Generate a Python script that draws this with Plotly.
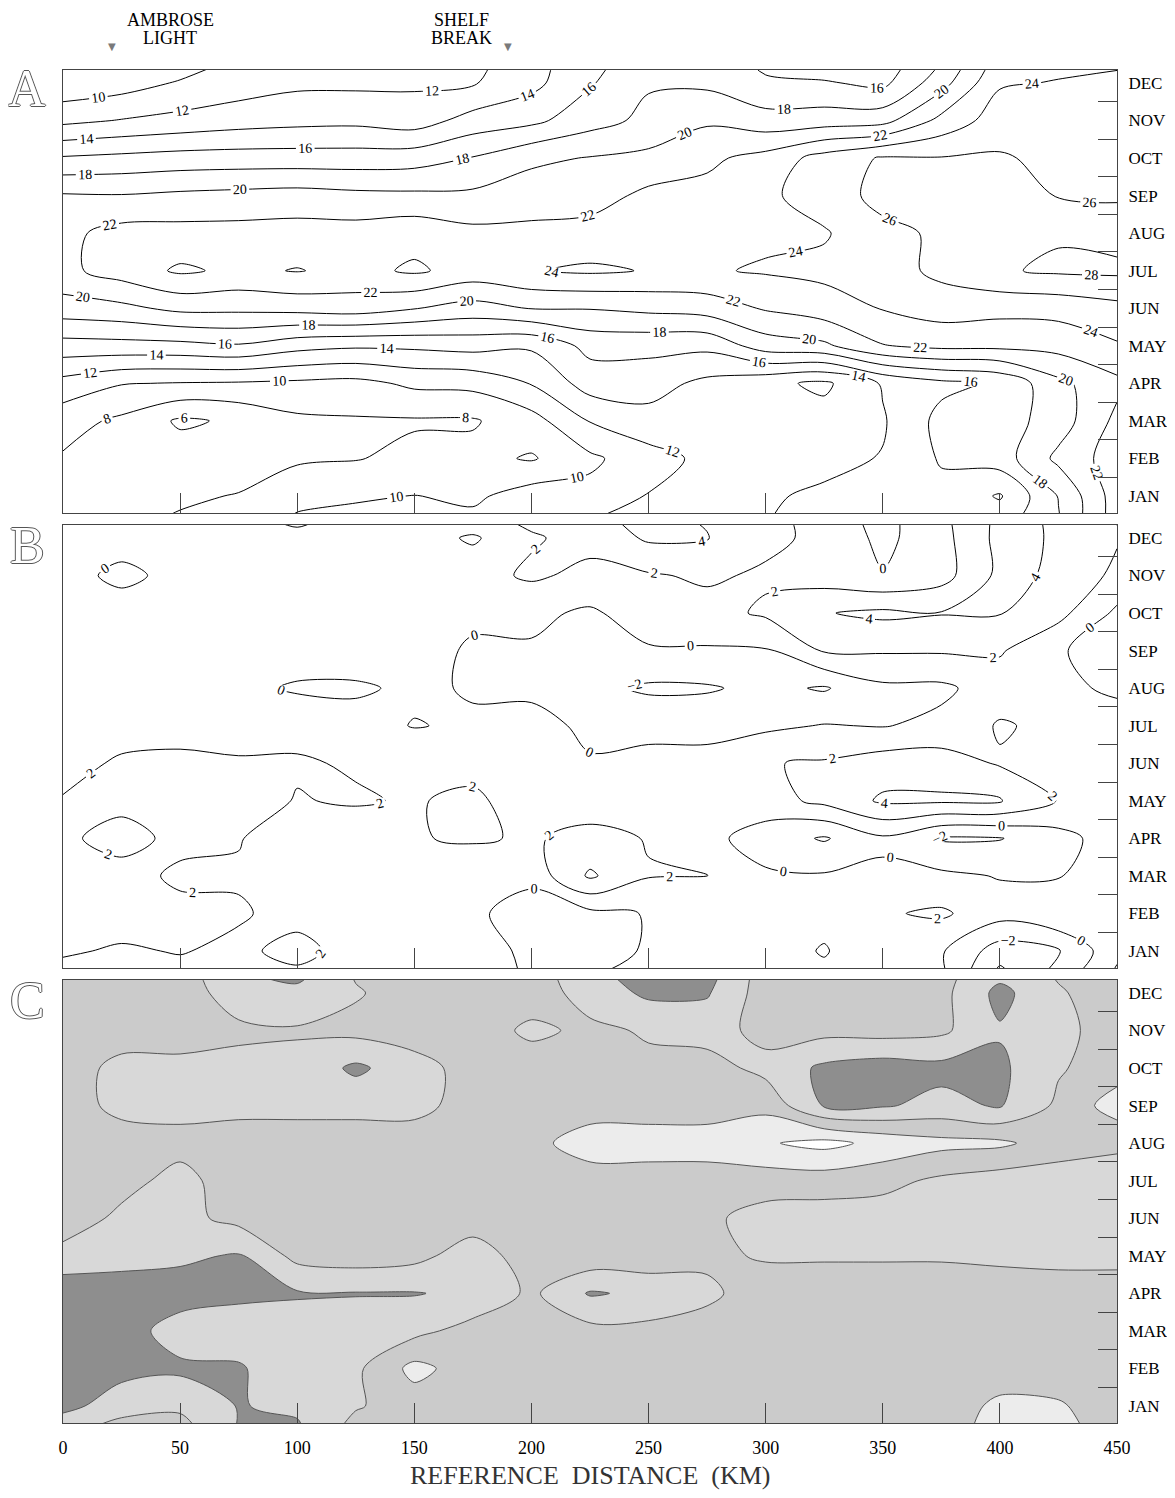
import plotly.graph_objects as go

# ---------------- data ----------------
distance_km = [0, 25, 50, 75, 100, 125, 150, 175, 200, 225, 250, 275, 300, 325, 350, 375, 400, 425, 450]
month_pos = [0.5, 1, 2, 3, 4, 5, 6, 7, 8, 9, 10, 11, 12, 12.5]
month_names = ["JAN", "FEB", "MAR", "APR", "MAY", "JUN", "JUL", "AUG", "SEP", "OCT", "NOV", "DEC"]
month_ticks = [1, 2, 3, 4, 5, 6, 7, 8, 9, 10, 11, 12]
month_bounds = [1.5, 2.5, 3.5, 4.5, 5.5, 6.5, 7.5, 8.5, 9.5, 10.5, 11.5]
distance_ticks = [0, 50, 100, 150, 200, 250, 300, 350, 400, 450]

landmark_km = [21, 190]
landmark_lines = [["AMBROSE", "LIGHT"], ["SHELF", "BREAK"]]
panel_letters = ["A", "B", "C"]

# Panel A: temperature (rows follow month_pos, columns follow distance_km)
temp_A = [
    [7.7, 7.5, 8.1, 8.6, 10.1, 10.5, 10.4, 10.3, 11.9, 11.8, 12.6, 13.4, 13.9, 14.6, 14.7, 15.3, 14.8, 17.9, 23.0],
    [7.6, 7.4, 7.7, 8.1, 9.4, 9.7, 10.05, 9.6, 11.0, 10.6, 12.1, 13.2, 13.8, 14.3, 14.5, 15.4, 13.8, 18.1, 23.0],
    [7.8, 7.2, 7.0, 7.0, 7.7, 7.9, 8.5, 8.6, 7.8, 9.6, 11.2, 12.5, 13.6, 13.5, 14.1, 16.2, 17.0, 20.5, 23.0],
    [8.8, 7.6, 5.7, 6.3, 7.6, 7.8, 7.8, 7.8, 9.2, 12.1, 13.3, 13.6, 13.0, 12.8, 13.8, 16.6, 17.0, 19.0, 22.5],
    [11.3, 10.1, 9.9, 9.8, 9.6, 9.4, 10.4, 10.6, 12.1, 14.9, 14.8, 13.5, 12.5, 11.6, 14.2, 15.5, 16.3, 19.5, 21.5],
    [15.2, 15.3, 15.4, 15.8, 14.7, 14.3, 14.4, 14.7, 14.3, 16.6, 16.6, 16.5, 19.0, 19.6, 21.9, 22.5, 22.5, 22.7, 23.8],
    [19.1, 19.5, 20.5, 20.5, 20.7, 21.0, 20.1, 19.2, 20.1, 20.1, 20.5, 20.9, 22.2, 23.1, 24.1, 24.9, 24.6, 24.7, 25.4],
    [21.5, 22.9, 24.3, 23.6, 24.1, 23.4, 24.3, 23.2, 23.9, 24.3, 23.9, 23.8, 24.2, 24.5, 25.1, 26.5, 27.8, 28.3, 28.4],
    [21.5, 22.7, 22.7, 22.7, 22.8, 22.8, 23.3, 22.5, 22.5, 22.8, 23.3, 23.3, 23.6, 23.8, 25.5, 26.3, 27.1, 27.8, 27.3],
    [20.2, 20.1, 20.4, 20.6, 20.8, 20.5, 20.4, 20.4, 21.0, 21.1, 22.5, 22.6, 23.6, 25.0, 26.6, 26.3, 26.8, 25.9, 25.7],
    [16.2, 16.5, 16.8, 16.9, 16.9, 16.9, 17.1, 18.1, 19.6, 20.1, 20.5, 21.6, 22.7, 24.8, 26.2, 26.1, 26.2, 25.5, 25.2],
    [11.5, 12.1, 12.6, 13.1, 13.4, 13.5, 13.0, 14.8, 15.5, 17.2, 18.5, 19.7, 18.8, 19.0, 19.3, 22.6, 25.0, 24.9, 24.6],
    [8.5, 9.1, 10.2, 11.0, 11.6, 11.6, 11.7, 11.8, 13.4, 15.8, 17.8, 17.6, 16.3, 16.2, 15.5, 19.2, 23.8, 24.1, 24.4],
    [7.8, 7.8, 9.0, 10.5, 11.0, 11.3, 11.4, 11.5, 13.2, 15.5, 17.0, 17.3, 15.6, 14.8, 14.8, 18.1, 23.0, 23.6, 23.8],
]

# Panel B: anomaly
anom_B = [
    [1.8, 1.7, 1.8, 1.8, 1.9, 1.5, 1.3, 1.0, -0.3, -0.05, 0.1, 0.5, 0.3, 0.1, 0.5, 0.3, -4.3, -1.5, 2.2],
    [2.1, 1.9, 2.05, 1.8, 2.3, 1.6, 1.4, 1.0, -0.5, -0.2, 0.05, 0.2, 0.3, -0.05, 0.5, 0.2, -3.0, -2.2, 1.5],
    [2.4, 2.4, 2.3, 2.1, 1.7, 1.4, 1.2, 0.6, -1.5, -0.5, 0.1, 0.8, 0.8, 0.2, 1.8, 2.3, 0.8, 1.9, 1.8],
    [2.3, 2.4, 1.8, 1.9, 1.6, 1.4, 1.2, 0.8, 0.8, 4.3, 2.1, 2.1, 0.3, 0.2, 0.3, 0.4, -0.1, -0.1, 0.8],
    [2.2, 1.6, 2.3, 2.05, 1.5, 1.4, 1.9, 2.2, 1.8, 2.6, 1.9, 0.6, -1.0, -2.2, -0.3, -2.2, -2.1, -0.7, 1.0],
    [2.1, 2.3, 2.5, 2.4, 1.95, 2.1, 1.9, 2.3, 1.2, 1.0, 0.3, 0.2, 1.2, 2.5, 4.3, 4.3, 4.2, 1.9, 1.2],
    [1.5, 2.2, 2.3, 2.1, 2.1, 1.9, 1.6, 1.5, 1.0, 0.2, 0.6, 0.7, 1.9, 2.2, 3.0, 3.0, 1.8, 1.5, 1.0],
    [1.3, 1.4, 1.5, 1.6, 1.7, 0.8, -0.1, 0.3, 0.8, -0.5, -0.6, -0.7, -0.4, 0.1, -0.1, 0.5, 2.2, 1.5, 0.8],
    [1.2, 1.2, 1.3, 0.6, -0.3, -0.3, 0.4, -0.2, -0.5, -1.5, -2.3, -2.2, -1.5, -2.2, -0.4, -0.4, 1.0, 0.4, -0.3],
    [1.0, 1.0, 1.1, 1.2, 1.3, 1.2, 0.6, -0.2, -0.2, -0.6, -0.2, -0.2, -0.2, 2.2, 2.2, 2.2, 2.2, 0.3, -1.5],
    [1.0, 0.8, 1.0, 1.2, 1.3, 1.4, 1.3, 0.3, 0.4, -0.3, 1.0, 1.3, 2.3, 3.9, 4.4, 4.1, 4.1, 2.6, -0.4],
    [0.6, -0.4, 0.5, 1.2, 1.4, 1.4, 1.2, 1.3, 2.3, 1.5, 1.8, 2.3, 1.7, 1.0, 0.1, 1.2, 4.5, 3.7, 1.5],
    [0.8, 0.7, 0.9, 1.3, 1.6, 1.3, 1.0, -0.3, 1.8, 2.6, 4.3, 4.1, 2.5, 1.5, -0.5, 1.3, 4.6, 3.8, 2.2],
    [1.0, 1.0, 1.2, 1.6, 2.3, 1.5, 1.2, 1.4, 2.4, 3.5, 4.6, 3.8, 2.8, 1.0, -0.6, 1.5, 4.5, 3.8, 1.9],
]

# Panel C: shading class (0 white, 1 sparse dots, 2 background, 3 checker, 4 dark)
class_C = [
    [3.0, 2.2, 2.2, 3.55, 3.6, 2.2, 2.0, 2.0, 2.0, 2.0, 2.0, 2.0, 2.0, 2.0, 2.0, 2.0, 1.1, 1.2, 2.0],
    [3.8, 3.0, 2.7, 3.55, 3.3, 2.6, 2.0, 2.0, 2.0, 2.0, 2.0, 2.0, 2.0, 2.0, 2.0, 2.0, 1.3, 1.4, 2.0],
    [4.2, 3.8, 3.7, 3.6, 2.9, 2.7, 1.2, 2.0, 2.0, 2.0, 2.0, 2.0, 2.0, 2.0, 2.0, 2.0, 2.0, 2.0, 2.0],
    [4.2, 4.0, 3.0, 3.0, 3.0, 3.0, 2.8, 2.1, 2.0, 2.2, 2.2, 2.1, 2.0, 2.0, 2.0, 2.0, 2.0, 2.0, 2.0],
    [4.2, 4.2, 4.0, 3.7, 3.6, 3.55, 3.55, 3.3, 2.3, 3.6, 3.3, 2.7, 2.0, 2.0, 2.0, 2.0, 2.0, 2.0, 2.0],
    [2.8, 3.0, 3.3, 3.6, 2.2, 2.0, 2.2, 3.0, 2.0, 1.8, 1.8, 2.3, 2.6, 2.6, 2.6, 2.6, 2.7, 2.8, 2.8],
    [2.0, 2.7, 2.8, 2.2, 2.0, 2.0, 2.0, 2.0, 2.0, 2.0, 2.0, 2.3, 2.9, 3.0, 3.0, 3.0, 3.0, 3.0, 3.0],
    [2.0, 2.2, 2.8, 2.0, 2.0, 2.0, 2.0, 2.0, 2.0, 2.0, 2.0, 2.0, 2.0, 2.0, 2.2, 2.7, 3.0, 3.0, 3.0],
    [2.0, 2.0, 2.2, 2.0, 2.0, 2.0, 2.0, 2.0, 1.8, 1.0, 1.0, 1.0, 0.6, 0.2, 0.8, 1.2, 1.3, 2.0, 2.3],
    [2.0, 2.8, 2.8, 2.8, 2.8, 2.8, 2.8, 2.1, 2.0, 2.0, 2.0, 2.0, 1.8, 3.6, 3.6, 3.2, 3.6, 2.3, 1.0],
    [2.0, 2.8, 2.8, 2.8, 2.8, 3.7, 2.9, 2.1, 2.0, 2.0, 2.3, 2.1, 2.8, 3.7, 4.0, 3.8, 3.7, 2.6, 2.0],
    [2.0, 2.0, 2.0, 2.3, 2.4, 2.2, 2.0, 2.0, 2.7, 2.3, 2.6, 2.9, 2.2, 2.2, 2.1, 2.3, 3.4, 2.8, 2.0],
    [2.0, 2.0, 2.0, 3.0, 3.2, 2.6, 2.0, 2.0, 2.0, 2.9, 3.7, 3.6, 2.0, 2.0, 2.0, 2.2, 3.8, 2.6, 2.0],
    [2.0, 2.0, 2.0, 3.4, 3.8, 2.4, 2.0, 2.0, 2.0, 3.2, 4.0, 3.9, 2.0, 2.0, 2.0, 2.2, 3.2, 2.4, 2.0],
]

# ---------------- figure geometry (reference pixel coordinates) ----------------
FONT = "Liberation Serif"
OFF = 8                                       # page body margin of the html page
W, H = 1175 - OFF, 1498 - OFF
PL, PR, PT, PB = 63, 1117, 70, 1423           # outer plot-area box (reference px)
PW, PH = PR - PL, PB - PT
panels_px = [(70, 513), (525, 968), (980, 1423)]
YRANGE = [0.547, 12.345]
AXCOL = "#444444"


def px_x(px):
    return (px - PL) / PW


def px_y(py):
    return 1 - (py - PT) / PH


fig = go.Figure()

black = [[0, "black"], [1, "black"]]
# the wide, mostly empty level range only makes plotly place labels more densely
fig.add_trace(go.Contour(
    x=distance_km, y=month_pos, z=temp_A, xaxis="x", yaxis="y",
    colorscale=black, showscale=False, hoverinfo="skip",
    contours=dict(start=-46, end=72, size=2, coloring="lines", showlabels=True,
                  labelfont=dict(family=FONT, size=14, color="black")),
    line=dict(width=1, smoothing=0.9),
))
fig.add_trace(go.Contour(
    x=distance_km, y=month_pos, z=anom_B, xaxis="x2", yaxis="y2",
    colorscale=black, showscale=False, hoverinfo="skip",
    contours=dict(start=-60, end=60, size=2, coloring="lines", showlabels=True,
                  labelfont=dict(family=FONT, size=14, color="black")),
    line=dict(width=1, smoothing=0.9),
))
c_white, c_sparse, c_bg, c_check, c_dark = "#ffffff", "#ececec", "#cbcbcb", "#d8d8d8", "#8e8e8e"
step_scale = [
    [0, c_white], [0.125, c_white], [0.125, c_sparse], [0.375, c_sparse],
    [0.375, c_bg], [0.625, c_bg], [0.625, c_check], [0.875, c_check],
    [0.875, c_dark], [1, c_dark],
]
fig.add_trace(go.Contour(
    x=distance_km, y=month_pos, z=class_C, xaxis="x3", yaxis="y3",
    colorscale=step_scale, showscale=False, hoverinfo="skip",
    contours=dict(start=0.5, end=3.5, size=1, coloring="fill"),
    line=dict(width=1, color="#555555", smoothing=0.9),
))

layout = dict(width=W, height=H,
              margin=dict(l=PL - OFF, r=W - (PR - OFF), t=PT - OFF, b=H - (PB - OFF), autoexpand=False),
              paper_bgcolor="white", plot_bgcolor="white", showlegend=False)
for i, (top, bot) in enumerate(panels_px):
    sfx = "" if i == 0 else str(i + 1)
    layout["xaxis" + sfx] = dict(
        domain=[0, 1], range=[0, 450], anchor="y" + sfx, automargin=False,
        showgrid=False, zeroline=False, showline=True, mirror=True,
        linecolor=AXCOL, linewidth=1,
        tickmode="array", tickvals=distance_ticks, ticks="inside", ticklen=20,
        tickcolor=AXCOL, tickwidth=1,
        showticklabels=(i == 2), tickfont=dict(family=FONT, size=18, color="black"),
        ticklabelstandoff=8,
    )
    layout["yaxis" + sfx] = dict(
        domain=[px_y(bot), px_y(top)], range=YRANGE, anchor="x" + sfx, side="right",
        automargin=False,
        showgrid=False, zeroline=False, showline=True, mirror=True,
        linecolor=AXCOL, linewidth=1,
        tickmode="array", tickvals=month_ticks, ticktext=month_names, ticks="",
        tickfont=dict(family=FONT, size=17, color="black"), ticklabelstandoff=7,
        minor=dict(tickmode="array", tickvals=month_bounds, ticks="inside", ticklen=19,
                   tickcolor=AXCOL, tickwidth=1, showgrid=False),
    )

annotations = []
letter_y = [88, 545, 1000]
for letter, ypx in zip(panel_letters, letter_y):
    annotations.append(dict(
        x=px_x(27), y=px_y(ypx), xref="paper", yref="paper", text=letter, showarrow=False,
        xanchor="center", yanchor="middle",
        font=dict(family=FONT, size=52, color="white",
                  shadow="1px 0 0 #555, -1px 0 0 #555, 0 1px 0 #555, 0 -1px 0 #555"),
    ))
label_x_px = [170, 461]
for (l1, l2), xpx in zip(landmark_lines, label_x_px):
    annotations.append(dict(x=px_x(xpx), y=px_y(20), xref="paper", yref="paper", text=l1,
                            showarrow=False, xanchor="center", yanchor="middle",
                            font=dict(family=FONT, size=18, color="black")))
    annotations.append(dict(x=px_x(xpx), y=px_y(38), xref="paper", yref="paper", text=l2,
                            showarrow=False, xanchor="center", yanchor="middle",
                            font=dict(family=FONT, size=18, color="black")))
for km in landmark_km:
    annotations.append(dict(x=km, y=px_y(47), xref="x", yref="paper", text="\u25BC",
                            showarrow=False, xanchor="center", yanchor="middle",
                            font=dict(family="DejaVu Sans", size=10, color="#7a7a7a")))
annotations.append(dict(x=px_x(590), y=px_y(1476), xref="paper", yref="paper",
                        text="REFERENCE&nbsp;&nbsp;DISTANCE&nbsp;&nbsp;(KM)", showarrow=False,
                        xanchor="center", yanchor="middle",
                        font=dict(family=FONT, size=26, color="#333")))
layout["annotations"] = annotations

fig.update_layout(**layout)
fig.write_html("out.html")
